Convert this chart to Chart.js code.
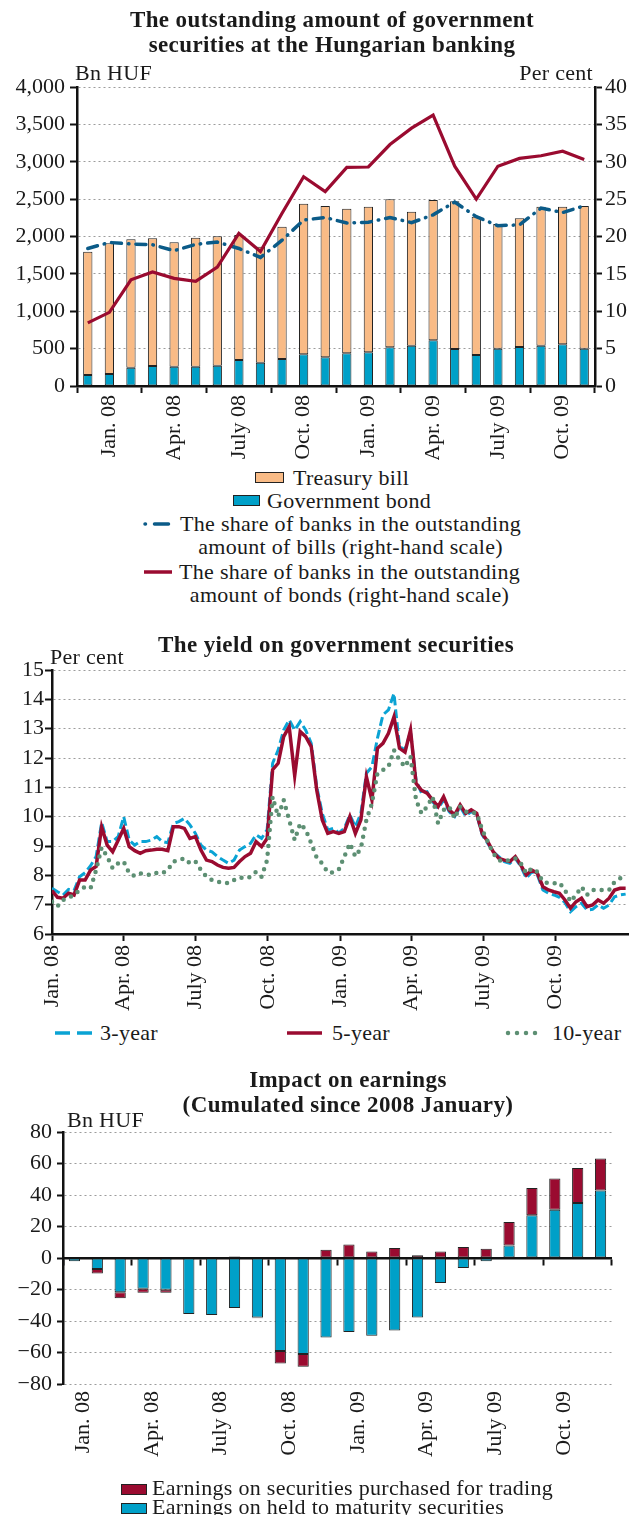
<!DOCTYPE html>
<html>
<head>
<meta charset="utf-8">
<script src="https://cdn.jsdelivr.net/npm/chart.js@4.4.0/dist/chart.umd.min.js"></script>
<style>
  body { margin: 0; background: #fff; }
  #page { position: relative; width: 634px; height: 1515px; overflow: hidden; font-family: "Liberation Serif", serif; color: #1a1a1a; }
  canvas { position: absolute; left: 0; }
  .title { position: absolute; left: 0; text-align: center; font-weight: bold; font-size: 23px; line-height: 25px; letter-spacing: 0.4px; white-space: nowrap; }
  .unit { position: absolute; font-size: 22px; line-height: 22px; letter-spacing: 0.3px; white-space: nowrap; }
  .lg { position: absolute; font-size: 22px; line-height: 22px; letter-spacing: 0.3px; white-space: nowrap; }
  .row { position: absolute; left: 0; width: 664px; display: flex; justify-content: center; align-items: flex-start; }
  .box { display: inline-block; height: 9px; border: 1px solid #222; }
  .two { text-align: center; font-size: 22px; line-height: 23px; letter-spacing: 0.3px; white-space: nowrap; }
</style>
</head>
<body>
<div id="page">
  <canvas id="c1" width="634" height="460" style="top:0"></canvas>
  <canvas id="c2" width="634" height="400" style="top:620px"></canvas>
  <canvas id="c3" width="634" height="420" style="top:1060px"></canvas>

  <div class="title" style="top:7px; width:664px;">The outstanding amount of government<br>securities at the Hungarian banking</div>
  <div class="unit" style="left:75px; top:62px;">Bn HUF</div>
  <div class="unit" style="right:41px; top:62px;">Per cent</div>

  <div class="row" style="top:466px;"><span class="box" style="width:27px; background:#f9bb86; margin:6px 9px 0 0;"></span><span class="two">Treasury bill</span></div>
  <div class="row" style="top:489px;"><span class="box" style="width:25px; background:#00a0c8; margin:6px 7px 0 0;"></span><span class="two">Government bond</span></div>
  <div class="row" style="top:512px;"><svg width="32" height="10" style="margin:7px 5px 0 0;"><line x1="2" y1="5" x2="30" y2="5" stroke="#0b5b88" stroke-width="3.5" stroke-linecap="round" stroke-dasharray="0.5 9 14 20"/></svg><span class="two">The share of banks in the outstanding<br>amount of bills (right-hand scale)</span></div>
  <div class="row" style="top:560px;"><svg width="30" height="10" style="margin:7px 5px 0 0;"><line x1="0" y1="5" x2="28" y2="5" stroke="#9a0b30" stroke-width="3.5"/></svg><span class="two">The share of banks in the outstanding<br>amount of bonds (right-hand scale)</span></div>

  <div class="title" style="top:632px; width:672px;">The yield on government securities</div>
  <div class="unit" style="left:50px; top:646px;">Per cent</div>

  <svg style="position:absolute; left:55px; top:1028px;" width="40" height="10"><line x1="0" y1="5" x2="38" y2="5" stroke="#0aa3d4" stroke-width="3.5" stroke-dasharray="15 7"/></svg>
  <div class="lg" style="left:100px; top:1022px;">3-year</div>
  <svg style="position:absolute; left:287px; top:1028px;" width="36" height="10"><line x1="0" y1="5" x2="35" y2="5" stroke="#9a0b30" stroke-width="3.5"/></svg>
  <div class="lg" style="left:332px; top:1022px;">5-year</div>
  <svg style="position:absolute; left:505px; top:1028px;" width="40" height="10"><line x1="3" y1="5" x2="38" y2="5" stroke="#5d8f73" stroke-width="4.5" stroke-linecap="round" stroke-dasharray="0 9"/></svg>
  <div class="lg" style="left:552px; top:1022px;">10-year</div>

  <div class="title" style="top:1067px; width:696px;">Impact on earnings<br>(Cumulated since 2008 January)</div>
  <div class="unit" style="left:67px; top:1109px;">Bn HUF</div>

  <div class="lg" style="left:121px; top:1478px; line-height:19px;"><span class="box" style="width:24px; background:#9a0b30; margin-right:5px;"></span>Earnings on securities purchased for trading<br><span class="box" style="width:24px; background:#00a0c8; margin-right:5px;"></span>Earnings on held to maturity securities</div>
</div>

<script>
// chart 1: month-end stocks, Dec 2007 - Nov 2009
const months = ['Dec. 07', 'Jan. 08', 'Feb. 08', 'Mar. 08', 'Apr. 08', 'May 08', 'June 08', 'July 08',
  'Aug. 08', 'Sep. 08', 'Oct. 08', 'Nov. 08', 'Dec. 08', 'Jan. 09', 'Feb. 09', 'Mar. 09', 'Apr. 09',
  'May 09', 'June 09', 'July 09', 'Aug. 09', 'Sep. 09', 'Oct. 09', 'Nov. 09'];
const bondAmount = [147, 160, 245, 268, 259, 259, 272, 348, 312, 361, 424, 384, 437, 451, 517, 539, 611, 495, 415, 499, 522, 539, 557, 499];
const billAmount = [1650, 1749, 1717, 1708, 1663, 1725, 1730, 1672, 1552, 1770, 2015, 2024, 1935, 1948, 1980, 1793, 1877, 1976, 1850, 1668, 1721, 1860, 1842, 1909];
const billShare = [18.4, 19.2, 19.0, 18.9, 18.1, 18.95, 19.25, 18.4, 17.2, 19.5, 22.2, 22.55, 21.8, 21.9, 22.55, 21.85, 22.9, 24.6, 22.65, 21.45, 21.55, 23.8, 23.2, 24.1];
const bondShare = [8.45, 9.85, 14.2, 15.25, 14.4, 14.0, 15.9, 20.4, 18.0, 23.1, 28.0, 26.0, 29.25, 29.3, 32.3, 34.5, 36.25, 29.4, 25.0, 29.4, 30.45, 30.8, 31.4, 30.3];

// chart 2: weekly yields from 1 Jan 2008
const weekStep = 7;
const yield3 = [7.56, 7.44, 7.33, 7.52, 7.48, 7.95, 8.09, 8.33, 8.64, 9.8, 9.15, 9.15, 9.32, 10.0, 9.2, 9.03, 9.15, 9.15, 9.2, 9.32, 9.15,
  9.11, 9.77, 9.83, 9.94, 9.72, 9.43, 9.03, 8.86, 8.8, 8.64, 8.52, 8.41, 8.52, 8.86, 8.98, 9.09, 9.38, 9.26, 9.55, 11.82,
  12.27, 12.95, 13.3, 12.95, 13.24, 12.95, 12.5, 11.02, 10.11, 9.55, 9.6, 9.45, 9.6, 10.06, 9.66, 10.11, 11.48, 11.7, 12.67, 13.47,
  13.64, 14.2, 12.39, 12.27, 12.9, 11.25, 10.8, 10.85, 10.51, 10.28, 10.57, 10.17, 10.0, 10.34, 10.02, 10.17, 10.06, 9.38, 9.09, 8.8,
  8.64, 8.47, 8.41, 8.58, 8.3, 7.9, 8.12, 8.01, 7.5, 7.39, 7.33, 7.25, 7.07, 6.76, 6.93, 7.05, 6.82, 6.84, 6.99, 6.88,
  6.99, 7.27, 7.33, 7.36];
const yield5 = [7.48, 7.25, 7.22, 7.39, 7.33, 7.84, 7.84, 8.18, 8.3, 9.65, 9.03, 8.8, 9.2, 9.6, 8.98, 8.84, 8.75, 8.84, 8.86, 8.89, 8.89,
  8.84, 9.66, 9.66, 9.6, 9.26, 9.32, 8.86, 8.52, 8.47, 8.35, 8.27, 8.24, 8.27, 8.47, 8.64, 8.75, 9.15, 8.98, 9.26, 11.6,
  11.82, 12.73, 13.07, 11.4, 12.9, 12.73, 12.39, 10.9, 9.89, 9.43, 9.49, 9.43, 9.49, 10.0, 9.43, 9.89, 11.36, 10.57, 12.33, 12.5,
  12.84, 13.4, 12.33, 12.2, 12.95, 11.14, 10.9, 10.8, 10.57, 10.34, 10.68, 10.23, 10.06, 10.4, 10.11, 10.23, 10.11, 9.43, 9.15, 8.8,
  8.58, 8.52, 8.47, 8.64, 8.35, 8.01, 8.18, 8.07, 7.61, 7.5, 7.44, 7.39, 7.16, 6.88, 7.1, 7.22, 6.93, 6.99, 7.16, 7.05,
  7.22, 7.5, 7.56, 7.56];
const yield10 = [7.1, 6.95, 7.16, 7.25, 7.32, 7.5, 7.61, 7.56, 8.18, 8.95, 8.64, 8.24, 8.41, 8.47, 8.07, 7.98, 8.07, 8.03, 8.01, 8.09, 8.07,
  8.18, 8.47, 8.52, 8.58, 8.41, 8.47, 8.18, 7.95, 7.84, 7.78, 7.75, 7.73, 7.84, 7.93, 7.9, 7.95, 8.12, 7.95, 8.52, 10.68,
  10.0, 10.57, 9.89, 9.2, 9.77, 9.55, 9.09, 8.6, 8.4, 8.1, 8.1, 8.2, 8.64, 9.09, 8.64, 8.92, 9.89, 10.45, 11.48, 11.59,
  11.7, 12.27, 11.93, 11.7, 12.05, 10.57, 10.11, 10.34, 10.68, 9.77, 10.23, 10.34, 9.94, 10.34, 10.17, 10.17, 10.11, 9.55, 9.15, 8.75,
  8.52, 8.47, 8.52, 8.58, 8.41, 8.07, 8.24, 8.12, 7.78, 7.73, 7.73, 7.75, 7.5, 7.1, 7.33, 7.61, 7.33, 7.5, 7.5, 7.5,
  7.5, 7.78, 7.9, 7.95];
const quarterDays = [0, 91, 182, 274, 366, 456, 547, 639];
const quarterLabels = ['Jan. 08', 'Apr. 08', 'July 08', 'Oct. 08', 'Jan. 09', 'Apr. 09', 'July 09', 'Oct. 09'];

// chart 3: cumulated earnings, Jan 2008 - Dec 2009
const earnMonths = ['Jan. 08', 'Feb. 08', 'Mar. 08', 'Apr. 08', 'May 08', 'June 08', 'July 08', 'Aug. 08',
  'Sep. 08', 'Oct. 08', 'Nov. 08', 'Dec. 08', 'Jan. 09', 'Feb. 09', 'Mar. 09', 'Apr. 09', 'May 09',
  'June 09', 'July 09', 'Aug. 09', 'Sep. 09', 'Oct. 09', 'Nov. 09', 'Dec. 09'];
const heldEarn = [-2.1, -7, -21.8, -19.5, -20.1, -35.6, -36.2, -31.7, -37.7, -59, -61, -50.4, -47, -49.3, -46.1, -37.7, -15.9, -6.3, -2.1, 8, 27.1, 30.7, 34.9, 42.8];
const tradingEarn = [0, -2.8, -3.8, -2.5, -1.9, 0, 0, 1, -0.6, -8, -8, 5.3, 8.5, 4.2, 6.3, 1.7, 4.2, 7, 5.9, 14.8, 17.4, 19.7, 22.2, 20.3];

Chart.defaults.font.family = '"Liberation Serif", serif';
Chart.defaults.font.size = 22;
Chart.defaults.color = '#1a1a1a';
Chart.defaults.animation = false;
Chart.defaults.plugins.legend.display = false;
Chart.defaults.plugins.tooltip.enabled = false;

const axisBlack = '#111';
const gridGrey = '#9c9c9c';
const quarterTick = ctx => (ctx.index === undefined || ctx.index % 3 === 0) ? axisBlack : 'rgba(0,0,0,0)';

// --- chart 1
new Chart(document.getElementById('c1'), {
  data: {
    labels: months,
    datasets: [
      { type: 'line', label: 'bonds share', data: bondShare, yAxisID: 'y1', borderColor: '#9a0b30', borderWidth: 3.2, pointRadius: 0, order: 0 },
      { type: 'line', label: 'bills share', data: billShare, yAxisID: 'y1', borderColor: '#0b5b88', borderWidth: 3.5,
        borderDash: [10, 7, 0.5, 7], borderCapStyle: 'round', pointRadius: 0, order: 1 },
      { type: 'bar', label: 'Government bond', data: bondAmount, backgroundColor: '#00a0c8', borderColor: '#222',
        borderWidth: 1, borderSkipped: false, barPercentage: 0.43, categoryPercentage: 1, order: 2 },
      { type: 'bar', label: 'Treasury bill', data: billAmount, backgroundColor: '#f9bb86', borderColor: '#222',
        borderWidth: 1, borderSkipped: false, barPercentage: 0.43, categoryPercentage: 1, order: 3 }
    ]
  },
  options: {
    responsive: false,
    layout: { padding: { top: 87, left: 0, right: 0, bottom: 0 } },
    scales: {
      x: {
        stacked: true, offset: true,
        grid: { offset: true, drawOnChartArea: false, tickLength: 7, tickWidth: 2, tickColor: quarterTick },
        border: { color: axisBlack, width: 2.5 },
        ticks: { autoSkip: false, minRotation: 90, maxRotation: 90, padding: 2,
          callback: function (v, i) { return i % 3 === 1 ? this.getLabelForValue(v) : ''; } },
        afterFit: s => { s.height = 74; }
      },
      y: {
        stacked: true, min: 0, max: 4000,
        ticks: { stepSize: 500, padding: 5, autoSkip: false, callback: v => v.toLocaleString('en-US') },
        grid: { color: gridGrey, lineWidth: 1, tickColor: axisBlack, tickLength: 7, tickWidth: 2 },
        border: { color: axisBlack, width: 2.5, dash: [2, 3] },
        afterFit: s => { s.width = 77; }
      },
      y1: {
        position: 'right', min: 0, max: 40,
        ticks: { stepSize: 5, padding: 3, autoSkip: false },
        grid: { drawOnChartArea: false, tickColor: axisBlack, tickLength: 7, tickWidth: 2 },
        border: { color: axisBlack, width: 2.5 },
        afterFit: s => { s.width = 39; }
      }
    }
  }
});

// --- chart 2
const weekPoints = arr => arr.map((v, i) => ({ x: i * weekStep, y: v }));
new Chart(document.getElementById('c2'), {
  type: 'line',
  data: {
    datasets: [
      { label: '3-year', data: weekPoints(yield3), borderColor: '#0aa3d4', borderWidth: 3, borderDash: [9, 4], pointRadius: 0, order: 2 },
      { label: '5-year', data: weekPoints(yield5), borderColor: '#9a0b30', borderWidth: 3.5, pointRadius: 0, order: 1 },
      { label: '10-year', data: weekPoints(yield10), borderColor: '#5d8f73', borderWidth: 4.5, borderDash: [0, 8],
        borderCapStyle: 'round', pointRadius: 0, order: 0 }
    ]
  },
  options: {
    responsive: false,
    layout: { padding: { top: 50, left: 0, right: 6, bottom: 0 } },
    scales: {
      x: {
        type: 'linear', min: 0, max: 731,
        afterBuildTicks: s => { s.ticks = quarterDays.map(v => ({ value: v })); },
        ticks: { autoSkip: false, minRotation: 90, maxRotation: 90, padding: 4,
          callback: v => quarterLabels[quarterDays.indexOf(v)] },
        grid: { drawOnChartArea: false, tickColor: axisBlack, tickLength: 7, tickWidth: 2 },
        border: { color: axisBlack, width: 2.5 },
        afterFit: s => { s.height = 86; }
      },
      y: {
        min: 6, max: 15,
        ticks: { stepSize: 1, padding: 1, autoSkip: false },
        grid: { color: gridGrey, tickColor: axisBlack, tickLength: 7, tickWidth: 2 },
        border: { color: axisBlack, width: 2.5, dash: [2, 3] },
        afterFit: s => { s.width = 52; }
      }
    }
  }
});

// --- chart 3
new Chart(document.getElementById('c3'), {
  type: 'bar',
  data: {
    labels: earnMonths,
    datasets: [
      { label: 'Earnings on held to maturity securities', data: heldEarn, xAxisID: 'x', backgroundColor: '#00a0c8',
        borderColor: '#222', borderWidth: 1, borderSkipped: false, barPercentage: 0.49, categoryPercentage: 1 },
      { label: 'Earnings on securities purchased for trading', data: tradingEarn, xAxisID: 'x', backgroundColor: '#9a0b30',
        borderColor: '#222', borderWidth: 1, borderSkipped: false, barPercentage: 0.49, categoryPercentage: 1 }
    ]
  },
  options: {
    responsive: false,
    layout: { padding: { top: 72, left: 0, right: 2, bottom: 0 } },
    scales: {
      x: {
        stacked: true, offset: true, position: { y: 0 },
        grid: { offset: true, drawOnChartArea: false, tickLength: 6, tickWidth: 2, tickColor: quarterTick },
        ticks: { display: false },
        border: { color: axisBlack, width: 2.5 }
      },
      x2: {
        type: 'category', labels: earnMonths, position: 'bottom', offset: true,
        grid: { display: false, drawTicks: false },
        border: { display: false },
        ticks: { autoSkip: false, minRotation: 90, maxRotation: 90, padding: 7, labelOffset: 9,
          callback: function (v, i) { return i % 3 === 0 ? this.getLabelForValue(v) : ''; } },
        afterFit: s => { s.height = 96; }
      },
      y: {
        stacked: true, min: -80, max: 80,
        ticks: { stepSize: 20, padding: 5, autoSkip: false, callback: v => v < 0 ? '\u2212' + Math.abs(v) : String(v) },
        grid: { color: ctx => (ctx.tick && ctx.tick.value === 0) ? 'rgba(0,0,0,0)' : gridGrey,
          tickColor: axisBlack, tickLength: 6, tickWidth: 2 },
        border: { color: axisBlack, width: 2.5, dash: [2, 3] },
        afterFit: s => { s.width = 63; }
      }
    }
  }
});
</script>
</body>
</html>
